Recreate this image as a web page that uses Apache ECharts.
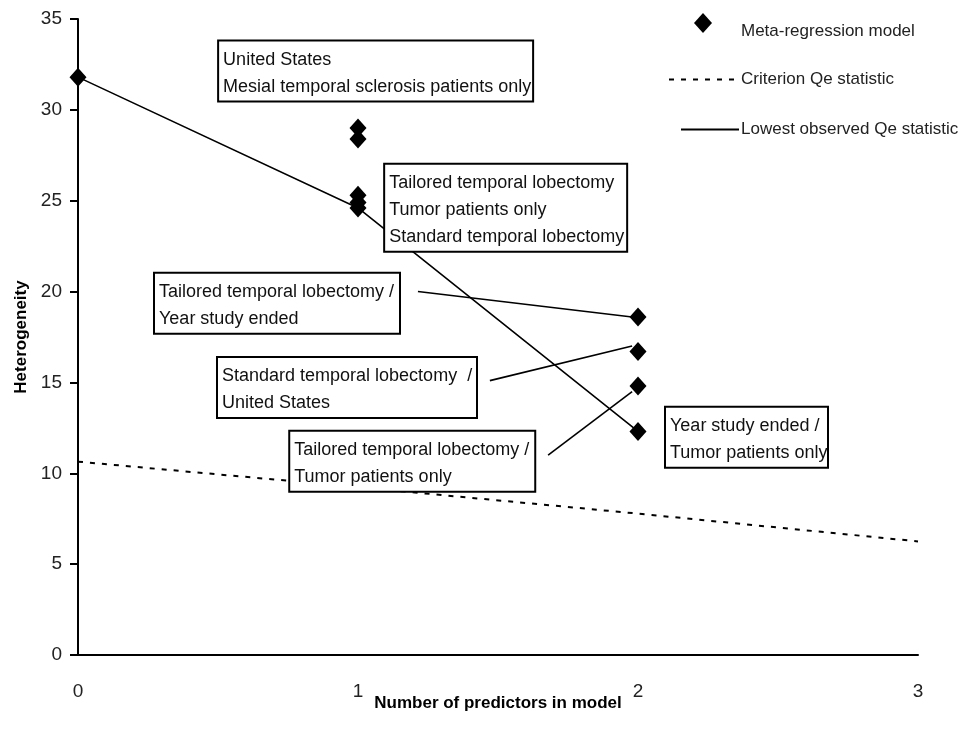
<!DOCTYPE html>
<html>
<head>
<meta charset="utf-8">
<script src="https://cdn.jsdelivr.net/npm/echarts@6.0.0/dist/echarts.min.js"></script>
<style>
  html, body { margin: 0; padding: 0; background: #fff; }
  #chart { width: 972px; height: 740px; }
</style>
</head>
<body>
<div id="chart"></div>
<script>
// 字体
const FONT = "'Liberation Sans Narrow', 'Arial Narrow', 'Liberation Sans', Arial, sans-serif";

// x 轴刻度
const xTicks = [0, 1, 2, 3];

// meta-regression 点
const metaX = [0, 1, 1, 1, 1, 1, 2, 2, 2, 2];
const metaY = [31.8, 29.0, 28.4, 25.3, 24.9, 24.6, 18.6, 16.7, 14.8, 12.3];

// 最低 Qe 线
const lowestX = [0, 1, 2];
const lowestY = [31.8, 24.6, 12.3];

// 判定 Qe 线
const criterionX = [0, 1, 2, 3];
const criterionY = [10.64, 9.24, 7.78, 6.25];

// 注释文字 (左上角锚点为数据坐标)
const noteText = [
  'United States\nMesial temporal sclerosis patients only',
  'Tailored temporal lobectomy\nTumor patients only\nStandard temporal lobectomy',
  'Tailored temporal lobectomy /\nYear study ended',
  'Standard temporal lobectomy  /\nUnited States',
  'Tailored temporal lobectomy /\nTumor patients only',
  'Year study ended /\nTumor patients only'
];
const noteAt = [[0.504, 33.76], [1.097, 26.98], [0.275, 20.98], [0.5, 16.35], [0.758, 12.28], [2.1, 13.6]];
const noteWidth = [305, 233, 236, 250, 236, 153];

// 连接线
const connectFrom = [[1.214, 20.0], [1.471, 15.1], [1.679, 11.0]];
const connectTo = [[1.979, 18.6], [1.979, 17.0], [1.979, 14.5]];

const zip = (xs, ys) => xs.map((x, i) => [x, ys[i]]);

const chart = echarts.init(document.getElementById('chart'));

// 图例里线条不画圆点
const noDot = { color: 'rgba(0,0,0,0)', borderColor: 'rgba(0,0,0,0)', borderWidth: 0 };

chart.setOption({
  animation: false,
  grid: { left: 78, right: 54, top: 19, bottom: 85 },
  xAxis: {
    type: 'value', min: xTicks[0], max: xTicks[xTicks.length - 1], interval: 1,
    name: 'Number of predictors in model',
    nameLocation: 'middle', nameGap: 40, nameMoveOverlap: false,
    nameTextStyle: { fontFamily: FONT, fontWeight: 'bold', fontSize: 17, color: '#000' },
    axisLine: { lineStyle: { color: '#000', width: 2 } },
    axisTick: { show: false },
    splitLine: { show: false },
    axisLabel: { fontFamily: FONT, fontSize: 19, color: '#222', margin: 27 }
  },
  yAxis: {
    type: 'value', min: 0, max: 35, interval: 5,
    name: 'Heterogeneity',
    nameLocation: 'middle', nameGap: 48, nameMoveOverlap: false,
    nameTextStyle: { fontFamily: FONT, fontWeight: 'bold', fontSize: 17, color: '#000' },
    axisLine: { show: true, lineStyle: { color: '#000', width: 2 } },
    axisTick: { show: true, length: 8, lineStyle: { color: '#000', width: 2 } },
    splitLine: { show: false },
    axisLabel: { fontFamily: FONT, fontSize: 19, color: '#222', margin: 16 }
  },
  legend: [
    {
      data: ['Meta-regression model'], left: 689, top: 8, itemWidth: 18, itemHeight: 20,
      formatter: '{t|{name}}',
      textStyle: {
        fontFamily: FONT, fontSize: 17, color: '#222', padding: [0, 0, 0, 24],
        rich: { t: { fontFamily: FONT, fontSize: 17, color: '#222', padding: [16, 0, 0, 0] } }
      }
    },
    {
      data: ['Criterion Qe statistic'], left: 663, top: 66, itemWidth: 70, itemHeight: 14,
      itemStyle: noDot,
      textStyle: { fontFamily: FONT, fontSize: 17, color: '#222', padding: [0, 0, 0, -3] }
    },
    {
      data: ['Lowest observed Qe statistic'], left: 675, top: 116, itemWidth: 58, itemHeight: 14,
      itemStyle: noDot,
      textStyle: { fontFamily: FONT, fontSize: 17, color: '#222', padding: [0, 0, 0, -3] }
    }
  ],
  series: [
    {
      name: 'Criterion Qe statistic', type: 'line', z: 2,
      data: zip(criterionX, criterionY),
      symbol: 'none',
      lineStyle: { color: '#000', width: 2, type: [5, 7] },
      itemStyle: { color: '#000' }
    },
    {
      name: 'Lowest observed Qe statistic', type: 'line', z: 2,
      data: zip(lowestX, lowestY),
      symbol: 'none',
      lineStyle: { color: '#000', width: 1.6 },
      itemStyle: { color: '#000' }
    },
    {
      name: 'notes', type: 'scatter', z: 3, silent: true,
      data: [],
      markPoint: {
        silent: true,
        symbol: 'circle', symbolSize: 0,
        itemStyle: { color: 'rgba(0,0,0,0)' },
        data: noteText.map((t, i) => ({
          coord: noteAt[i],
          label: {
            show: true, formatter: t, position: 'inside',
            align: 'left', verticalAlign: 'top',
            width: noteWidth[i],
            fontFamily: FONT, fontSize: 18, lineHeight: 27, color: '#111',
            backgroundColor: '#fff', borderColor: '#000', borderWidth: 2,
            padding: [5, 4, 0, 4]
          }
        }))
      },
      markLine: {
        silent: true, symbol: 'none',
        label: { show: false },
        lineStyle: { color: '#000', width: 1.6, type: 'solid' },
        data: connectFrom.map((p, i) => [{ coord: p }, { coord: connectTo[i] }])
      }
    },
    {
      name: 'Meta-regression model', type: 'scatter', z: 4,
      data: zip(metaX, metaY),
      symbol: 'diamond', symbolSize: [17, 19],
      itemStyle: { color: '#000', opacity: 1 }
    }
  ]
});
</script>
</body>
</html>
